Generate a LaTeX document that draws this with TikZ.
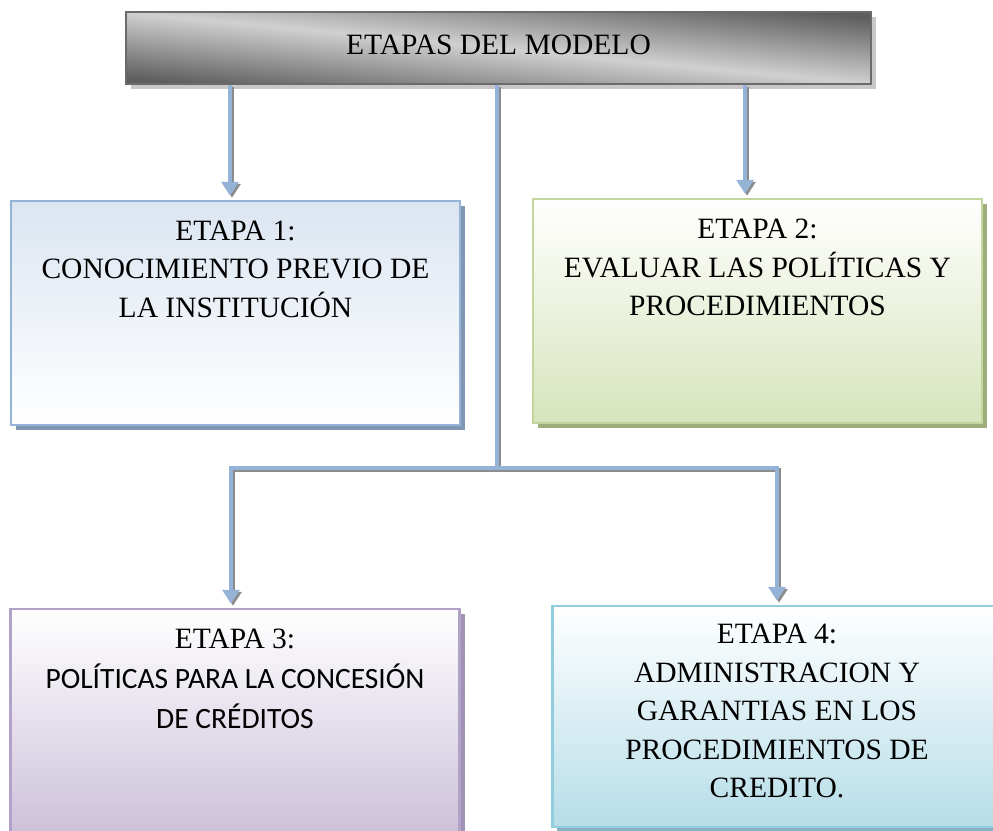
\documentclass[tikz,border=0pt]{standalone}
\usepackage{fontspec}
\setmainfont{Liberation Serif}
\newfontfamily\calibrifont{Carlito}
\usepackage{xcolor}
\usetikzlibrary{arrows.meta,positioning,shadows}
\definecolor{titledark}{HTML}{5E5E5E}
\definecolor{titlelight}{HTML}{D0D0D0}
\definecolor{titleline}{HTML}{6B6B6B}
\definecolor{titleshadow}{HTML}{C8C8C8}
\definecolor{oneline}{HTML}{95B3D7}
\definecolor{onefill}{HTML}{DBE5F1}
\definecolor{oneshadow}{HTML}{8196B2}
\definecolor{twoline}{HTML}{C3D69B}
\definecolor{twofill}{HTML}{D7E4BC}
\definecolor{twoshadow}{HTML}{9DAD7C}
\definecolor{threeline}{HTML}{B3A2C7}
\definecolor{threefill}{HTML}{CCC1DA}
\definecolor{threeshadow}{HTML}{A293B6}
\definecolor{fourline}{HTML}{93CDDD}
\definecolor{fourfill}{HTML}{B6DDE8}
\definecolor{fourshadow}{HTML}{86B4C2}
\definecolor{linkblue}{HTML}{95B3D7}
\definecolor{linkshadow}{HTML}{8C8C8C}
\newcommand{\stagetext}[1]{\parbox[t][184pt][t]{440pt}{\centering\fontsize{29.5}{38.5}\selectfont #1}}
\tikzset{
  titlebox/.style={rectangle,draw=titleline,line width=2pt,minimum width=745pt,minimum height=72pt,
    top color=titledark,bottom color=titledark,middle color=titlelight,shading angle=-5.5,
    font=\fontsize{29.5}{34}\selectfont,text depth=6pt,
    drop shadow={shadow xshift=5pt,shadow yshift=-5pt,fill=titleshadow,opacity=1}},
  stagebox/.style={rectangle,line width=2.5pt,minimum width=449pt,minimum height=224pt,inner sep=0pt},
  link/.style={draw=linkblue,line width=4pt,
    preaction={draw=linkshadow,line width=4pt,transform canvas={shift={(2pt,-2pt)}}}},
  conn/.style={draw=linkblue,line width=4pt,-{Triangle[width=17pt,length=14pt]},shorten >=4pt,
    preaction={draw=linkshadow,line width=4pt,-{Triangle[width=17pt,length=14pt]},shorten >=4pt,
      transform canvas={shift={(2pt,-2pt)}}}}
}
\begin{document}
\begin{tikzpicture}[x=1pt,y=-1pt]
  \useasboundingbox (0,0) rectangle (993,830);
  \node[titlebox] (title) at (498.5,48) {ETAPAS DEL MODELO};
  \node[stagebox,draw=oneline,top color=onefill,bottom color=white,
    drop shadow={shadow xshift=5pt,shadow yshift=-5pt,fill=oneshadow,opacity=1}] (s1) at (235.5,313)
    {\stagetext{ETAPA 1:\\CONOCIMIENTO PREVIO DE\\LA INSTITUCIÓN}};
  \node[stagebox,draw=twoline,top color=white,bottom color=twofill,
    drop shadow={shadow xshift=5pt,shadow yshift=-5pt,fill=twoshadow,opacity=1}] (s2) at (757.5,311)
    {\stagetext{ETAPA 2:\\EVALUAR LAS POLÍTICAS Y\\PROCEDIMIENTOS}};
  \node[stagebox,draw=threeline,top color=white,bottom color=threefill,
    drop shadow={shadow xshift=5pt,shadow yshift=-5pt,fill=threeshadow,opacity=1}] (s3) at (235,721)
    {\stagetext{ETAPA 3:\\[1.5pt]{\calibrifont\fontsize{29.5}{40}\selectfont POLÍTICAS PARA LA CONCESIÓN}\\[1.5pt]
      {\calibrifont\fontsize{29.5}{40}\selectfont DE CRÉDITOS}}};
  \node[stagebox,draw=fourline,top color=white,bottom color=fourfill,minimum height=221pt,
    drop shadow={shadow xshift=4pt,shadow yshift=-4pt,fill=fourshadow,opacity=1}] (s4) at (777,716.5)
    {\stagetext{ETAPA 4:\\ADMINISTRACION Y\\GARANTIAS EN LOS\\PROCEDIMIENTOS DE\\CREDITO.}};
  \coordinate (hub) at (497,468);

  % upper stages
  \draw[conn] ([xshift=-5.5pt]s1.north |- title.south) -- ([xshift=-5.5pt]s1.north);
  \draw[conn] ([xshift=-12.5pt]s2.north |- title.south) -- ([xshift=-12.5pt]s2.north);
  % lower stages
  \draw[link] (title.south -| hub) -- (hub);
  \draw[conn] (hub) -| ([xshift=-4pt]s3.north);
  \draw[conn] (hub) -| (s4.north);
\end{tikzpicture}
\end{document}
